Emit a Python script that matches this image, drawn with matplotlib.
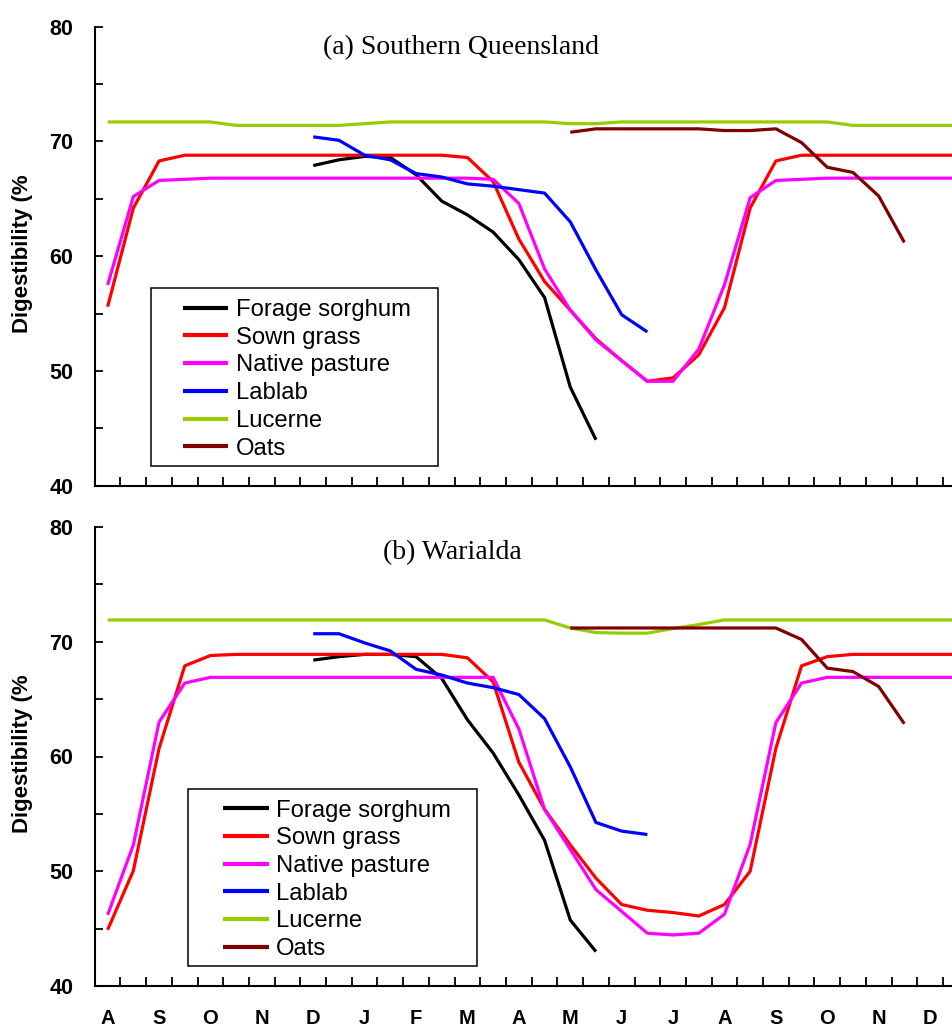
import numpy as np
import matplotlib
matplotlib.use("Agg")
import matplotlib.pyplot as plt
from matplotlib.patches import Rectangle

plt.rcParams["font.family"] = ["Liberation Sans", "DejaVu Sans"]

nan = np.nan

# ---------------------------------------------------------------------
# Datos: 34 medias-meses, de agosto a diciembre del a帽o siguiente
# ---------------------------------------------------------------------
months = ["A", "S", "O", "N", "D", "J", "F", "M", "A",
          "M", "J", "J", "A", "S", "O", "N", "D"]

series_names = ["Forage sorghum", "Sown grass", "Native pasture",
                "Lablab", "Lucerne", "Oats"]
series_colors = ["#000000", "#FF0000", "#FF00FF", "#0000FF", "#99CC00", "#800000"]

# (a) Southern Queensland
sorghum_a = [nan] * 8 + [67.9, 68.4, 68.7, 68.6, 67.1, 64.8, 63.6, 62.1,
                         59.7, 56.4, 48.6, 44.0] + [nan] * 14
sown_a = [55.6, 64.2, 68.3, 68.8, 68.8, 68.8, 68.8, 68.8, 68.8, 68.8, 68.8,
          68.8, 68.8, 68.8, 68.6, 66.5, 61.5, 57.8, 55.3, 52.8, 50.9, 49.1,
          49.4, 51.4, 55.5, 64.2, 68.3, 68.8, 68.8, 68.8, 68.8, 68.8, 68.8, 68.8]
native_a = [57.5, 65.2, 66.6, 66.7, 66.8, 66.8, 66.8, 66.8, 66.8, 66.8, 66.8,
            66.8, 66.8, 66.8, 66.8, 66.7, 64.6, 58.9, 55.3, 52.7, 50.9, 49.1,
            49.1, 51.9, 57.5, 65.1, 66.6, 66.7, 66.8, 66.8, 66.8, 66.8, 66.8, 66.8]
lablab_a = [nan] * 8 + [70.4, 70.1, 68.8, 68.4, 67.2, 66.9, 66.3, 66.1,
                        65.8, 65.5, 63.0, 58.8, 54.9, 53.4] + [nan] * 12
lucerne_a = [71.7, 71.7, 71.7, 71.7, 71.7, 71.4, 71.4, 71.4, 71.4, 71.4, 71.55,
             71.7, 71.7, 71.7, 71.7, 71.7, 71.7, 71.7, 71.55, 71.55, 71.7, 71.7,
             71.7, 71.7, 71.7, 71.7, 71.7, 71.7, 71.7, 71.4, 71.4, 71.4, 71.4, 71.4]
oats_a = [nan] * 18 + [70.8, 71.1, 71.1, 71.1, 71.1, 71.1, 70.95, 70.95,
                       71.1, 69.9, 67.75, 67.3, 65.25, 61.2] + [nan] * 2

# (b) Warialda
sorghum_b = [nan] * 8 + [68.4, 68.7, 68.9, 68.9, 68.7, 66.8, 63.2, 60.3,
                         56.65, 52.7, 45.75, 43.0] + [nan] * 14
sown_b = [44.9, 50.05, 60.7, 67.9, 68.8, 68.9, 68.9, 68.9, 68.9, 68.9, 68.9,
          68.9, 68.9, 68.9, 68.6, 66.5, 59.5, 55.4, 52.3, 49.4, 47.1, 46.6,
          46.4, 46.1, 47.1, 50.0, 60.7, 67.9, 68.7, 68.9, 68.9, 68.9, 68.9, 68.9]
native_b = [46.2, 52.3, 63.0, 66.4, 66.9, 66.9, 66.9, 66.9, 66.9, 66.9, 66.9,
            66.9, 66.9, 66.9, 66.9, 66.9, 62.4, 55.4, 51.9, 48.4, 46.5, 44.6,
            44.45, 44.6, 46.25, 52.35, 62.95, 66.4, 66.9, 66.9, 66.9, 66.9, 66.9, 66.9]
lablab_b = [nan] * 8 + [70.7, 70.7, 69.9, 69.2, 67.6, 67.1, 66.4, 66.0,
                        65.4, 63.3, 59.1, 54.25, 53.5, 53.2] + [nan] * 12
lucerne_b = [71.9] * 18 + [71.2, 70.8, 70.75, 70.75, 71.15, 71.5] + [71.9] * 10
oats_b = [nan] * 18 + [71.2, 71.2, 71.2, 71.2, 71.2, 71.2, 71.2, 71.2,
                       71.2, 70.2, 67.7, 67.4, 66.1, 62.85] + [nan] * 2

panel_a = [sorghum_a, sown_a, native_a, lablab_a, lucerne_a, oats_a]
panel_b = [sorghum_b, sown_b, native_b, lablab_b, lucerne_b, oats_b]

# ---------------------------------------------------------------------
# Figura
# ---------------------------------------------------------------------
W, H = 952, 1030
fig = plt.figure(figsize=(W / 100, H / 100), dpi=100)

x0_px = 94.8
step_px = 25.7
n_cat = 34


def fx(px):
    return px / W


def fy(py):
    return 1 - py / H


def make_panel(top_px, bottom_px, data, title, title_xy, leg_anchor, leg_box,
               show_months):
    ax = fig.add_axes([fx(x0_px), fy(bottom_px), n_cat * step_px / W,
                       (bottom_px - top_px) / H])
    x = np.arange(n_cat)
    for vals, name, col in zip(data, series_names, series_colors):
        ax.plot(x, vals, color=col, lw=2.3, label=name, solid_capstyle="butt")

    ax.set_xlim(-0.5, n_cat - 0.5)
    ax.set_ylim(40, 80)
    for s in ["top", "right"]:
        ax.spines[s].set_visible(False)
    for s in ["left", "bottom"]:
        ax.spines[s].set_linewidth(1.5)

    ax.set_yticks([40, 50, 60, 70, 80])
    ax.set_yticks(np.arange(45, 80, 10), minor=True)
    ax.tick_params(axis="y", which="both", direction="in", length=5.5,
                   width=1.3, pad=15.5, labelsize=15.5)
    for lab in ax.get_yticklabels():
        lab.set_fontweight("bold")

    ax.set_xticks(np.arange(0, n_cat, 2))
    if show_months:
        ax.set_xticklabels(months, fontsize=14.5, fontweight="bold")
    else:
        ax.set_xticklabels([])
    ax.set_xticks(np.arange(0.5, n_cat - 1, 1), minor=True)
    ax.tick_params(axis="x", which="major", length=0, pad=16.5)
    ax.tick_params(axis="x", which="minor", direction="in", length=6.5, width=1.3)

    fig.text(fx(title_xy[0]), fy(title_xy[1]), title, ha="center", va="baseline",
             fontsize=20, family=["Liberation Serif", "DejaVu Serif"])
    fig.text(0.024, fy((top_px + bottom_px) / 2 - 3), "Digestibility (%",
             rotation=90, ha="center", va="center", fontsize=16, fontweight="bold")

    bx, by, bw, bh = leg_box
    fig.patches.append(Rectangle((fx(bx), fy(by + bh)), bw / W, bh / H,
                                 transform=fig.transFigure, facecolor="white",
                                 edgecolor="black", lw=1.1, zorder=3))
    leg = fig.legend(loc="upper left", bbox_to_anchor=(fx(leg_anchor[0]), fy(leg_anchor[1])),
                     frameon=False, borderpad=0, borderaxespad=0, fontsize=17.2,
                     handlelength=1.9, handletextpad=0.3, labelspacing=0.24,
                     handles=ax.get_lines())
    leg.set_zorder(4)
    for ln in leg.get_lines():
        ln.set_linewidth(3.0)
    return ax


make_panel(26.7, 485.7, panel_a, "(a) Southern Queensland", (461, 54.6),
           (183, 299), (150.7, 288.3, 287, 177.4), False)
make_panel(527, 986, panel_b, "(b) Warialda", (452.5, 559),
           (223.3, 799.5), (188.3, 789.3, 289, 176.7), True)

fig.savefig("out.png", dpi=100)
